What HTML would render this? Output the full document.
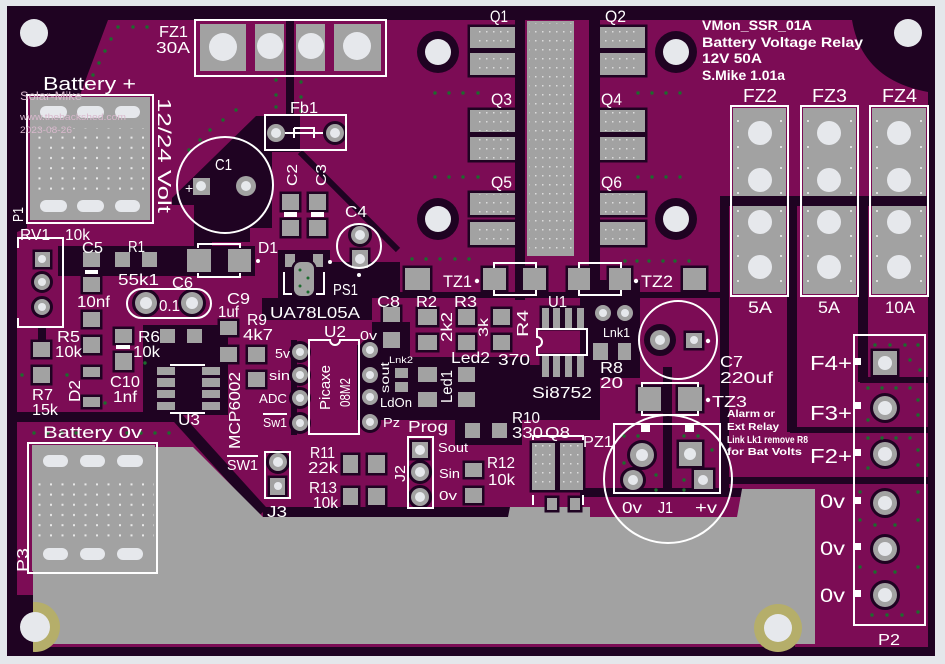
<!DOCTYPE html>
<html><head><meta charset="utf-8"><style>
html,body{margin:0;padding:0;background:#e4e7eb;}
svg{display:block;}
text{font-family:"Liberation Sans","DejaVu Sans",sans-serif;fill:#fff;}
.t{font-size:16px;}
.s{font-size:13px;}
.b{font-weight:bold;}
</style></head><body>
<svg width="945" height="664" viewBox="0 0 945 664" xmlns="http://www.w3.org/2000/svg">
<defs>
<pattern id="dots" width="11.5" height="10.2" patternUnits="userSpaceOnUse"><rect x="4" y="4" width="2" height="2" fill="#e8e8e8"/></pattern>
<pattern id="dots2" width="14" height="110" patternUnits="userSpaceOnUse"><rect x="5" y="9" width="2" height="2" fill="#e0e0e0"/></pattern>
<pattern id="dots3" width="7" height="9" patternUnits="userSpaceOnUse"><rect x="3" y="4" width="1.5" height="1.5" fill="#dcdcdc"/></pattern>
<clipPath id="gclip"><rect x="33" y="595" width="40" height="60"/></clipPath>
</defs>
<rect width="945" height="664" fill="#e4e7eb"/>
<rect x="7" y="6" width="928" height="650" fill="#1f0322"/>
<path d="M108,20 L852,20 Q862,80 928,92 L928,647 L17,647 L17,232 L27,228 L27,95 L80,95 Z" fill="#7c0c55"/>

<g fill="#1f0322">
<rect x="286" y="20" width="8" height="97"/>
<polygon points="256,116 300,116 300,152 272,152 272,228 250,228 250,242 212,242 212,250 194,250 194,205 172,205 172,198"/>
<rect x="58" y="246" width="197" height="30"/>
<rect x="278" y="250" width="52" height="48"/>
<rect x="262" y="298" width="110" height="22"/>
<rect x="330" y="262" width="70" height="36"/>
<rect x="143" y="325" width="85" height="90"/>
<rect x="17" y="412" width="163" height="10"/>
<polygon points="372,322 410,322 410,357 530,357 530,365 600,365 600,420 357,420 357,345 372,345"/>
<rect x="580" y="280" width="60" height="98"/>
<rect x="395" y="292" width="330" height="6"/>
<rect x="720" y="196" width="9" height="296"/>
<rect x="787" y="196" width="10" height="236"/>
<rect x="858" y="196" width="10" height="186"/>
<rect x="729" y="196" width="199" height="10"/>
<rect x="860" y="377" width="68" height="6"/>
<rect x="790" y="427" width="138" height="6"/>
<rect x="720" y="477" width="208" height="7"/>
<rect x="580" y="488" width="162" height="9"/>
<rect x="455" y="415" width="67" height="30"/>
<rect x="663" y="367" width="9" height="126"/>
<rect x="515" y="20" width="10" height="280"/>
<rect x="589" y="20" width="11" height="280"/>
<rect x="38" y="327" width="8" height="18"/>
<rect x="291" y="340" width="6" height="95"/>
</g>
<g stroke="#1f0322" fill="none">
<line x1="300" y1="152" x2="398" y2="250" stroke-width="6"/>
<line x1="177" y1="417" x2="263" y2="512" stroke-width="11"/>
<line x1="263" y1="512" x2="510" y2="512" stroke-width="10"/>
</g>

<path d="M33,447 L193,447 L263,517 L508,517 L510,507 L590,507 L590,517 L737,517 L742,489 L815,489 L815,644 L33,644 Z" fill="#a2a2a2"/>
<g fill="url(#dots2)">
<rect x="270" y="518" width="545" height="12"/>
<rect x="80" y="628" width="700" height="12"/>
</g>
<rect x="527" y="21" width="47" height="235" fill="#a2a2a2"/>
<rect x="529" y="23" width="43" height="231" fill="url(#dots3)"/>

<circle cx="34" cy="33" r="14" fill="#e6e8ec"/>
<circle cx="908" cy="33" r="14" fill="#e6e8ec"/>
<g fill="#1f0322"><circle cx="438" cy="52" r="21"/><circle cx="676" cy="52" r="21"/><circle cx="438" cy="219" r="21"/><circle cx="676" cy="219" r="21"/></g>
<g fill="#e6e8ec"><circle cx="438" cy="52" r="13"/><circle cx="676" cy="52" r="13"/><circle cx="438" cy="219" r="13"/><circle cx="676" cy="219" r="13"/></g>
<rect x="7" y="595" width="26" height="61" fill="#1f0322"/>
<circle cx="35" cy="627" r="25" fill="#b5ae6a" clip-path="url(#gclip)"/>
<circle cx="35" cy="627" r="15" fill="#e6e8ec"/>
<rect x="763" y="643" width="32" height="5" fill="#1f0322"/>
<circle cx="778" cy="628" r="24" fill="#b5ae6a"/>
<circle cx="778" cy="628" r="14" fill="#e6e8ec"/>

<g fill="#a2a2a2">
<rect x="30" y="97" width="120" height="123"/>
<rect x="32" y="445" width="123" height="126"/>
<rect x="200" y="24" width="46" height="47"/>
<rect x="255" y="24" width="29" height="47"/>
<rect x="296" y="24" width="29" height="47"/>
<rect x="334" y="24" width="47" height="47"/>
<rect x="733" y="108" width="53" height="88"/><rect x="733" y="206" width="53" height="88"/>
<rect x="803" y="108" width="53" height="88"/><rect x="803" y="206" width="53" height="88"/>
<rect x="872" y="108" width="54" height="88"/><rect x="872" y="206" width="54" height="88"/>
</g>
<rect x="33" y="128" width="118" height="62" fill="url(#dots)"/>
<rect x="33" y="478" width="121" height="62" fill="url(#dots)"/>
<g fill="#e6e8ec">
<rect x="40" y="106" width="27" height="12" rx="6"/><rect x="77" y="106" width="27" height="12" rx="6"/><rect x="115" y="106" width="25" height="12" rx="6"/>
<rect x="40" y="200" width="27" height="12" rx="6"/><rect x="77" y="200" width="27" height="12" rx="6"/><rect x="115" y="200" width="25" height="12" rx="6"/>
<rect x="43" y="455" width="25" height="12" rx="6"/><rect x="80" y="455" width="25" height="12" rx="6"/><rect x="117" y="455" width="26" height="12" rx="6"/>
<rect x="43" y="548" width="25" height="12" rx="6"/><rect x="80" y="548" width="25" height="12" rx="6"/><rect x="117" y="548" width="26" height="12" rx="6"/>
<circle cx="223" cy="47" r="14"/><circle cx="270" cy="46" r="13"/><circle cx="311" cy="46" r="13"/><circle cx="357" cy="46" r="14"/>
<circle cx="760" cy="133" r="12"/><circle cx="760" cy="180" r="12"/><circle cx="760" cy="222" r="12"/><circle cx="760" cy="267" r="12"/>
<circle cx="829" cy="133" r="12"/><circle cx="829" cy="180" r="12"/><circle cx="829" cy="222" r="12"/><circle cx="829" cy="267" r="12"/>
<circle cx="899" cy="133" r="12"/><circle cx="899" cy="180" r="12"/><circle cx="899" cy="222" r="12"/><circle cx="899" cy="267" r="12"/>
</g>
<!-- small dots around FZ pads -->
<g fill="#e0e0e0">
<rect x="737" y="120" width="2" height="2"/><rect x="780" y="120" width="2" height="2"/><rect x="737" y="146" width="2" height="2"/><rect x="780" y="146" width="2" height="2"/>
<rect x="737" y="167" width="2" height="2"/><rect x="780" y="167" width="2" height="2"/><rect x="737" y="192" width="2" height="2"/><rect x="780" y="192" width="2" height="2"/>
<rect x="737" y="210" width="2" height="2"/><rect x="780" y="210" width="2" height="2"/><rect x="737" y="235" width="2" height="2"/><rect x="780" y="235" width="2" height="2"/>
<rect x="737" y="255" width="2" height="2"/><rect x="780" y="255" width="2" height="2"/><rect x="737" y="280" width="2" height="2"/><rect x="780" y="280" width="2" height="2"/>
<rect x="807" y="120" width="2" height="2"/><rect x="850" y="120" width="2" height="2"/><rect x="807" y="146" width="2" height="2"/><rect x="850" y="146" width="2" height="2"/>
<rect x="807" y="167" width="2" height="2"/><rect x="850" y="167" width="2" height="2"/><rect x="807" y="192" width="2" height="2"/><rect x="850" y="192" width="2" height="2"/>
<rect x="807" y="210" width="2" height="2"/><rect x="850" y="210" width="2" height="2"/><rect x="807" y="235" width="2" height="2"/><rect x="850" y="235" width="2" height="2"/>
<rect x="807" y="255" width="2" height="2"/><rect x="850" y="255" width="2" height="2"/><rect x="807" y="280" width="2" height="2"/><rect x="850" y="280" width="2" height="2"/>
<rect x="876" y="120" width="2" height="2"/><rect x="920" y="120" width="2" height="2"/><rect x="876" y="146" width="2" height="2"/><rect x="920" y="146" width="2" height="2"/>
<rect x="876" y="167" width="2" height="2"/><rect x="920" y="167" width="2" height="2"/><rect x="876" y="192" width="2" height="2"/><rect x="920" y="192" width="2" height="2"/>
<rect x="876" y="210" width="2" height="2"/><rect x="920" y="210" width="2" height="2"/><rect x="876" y="235" width="2" height="2"/><rect x="920" y="235" width="2" height="2"/>
<rect x="876" y="255" width="2" height="2"/><rect x="920" y="255" width="2" height="2"/><rect x="876" y="280" width="2" height="2"/><rect x="920" y="280" width="2" height="2"/>
</g>

<g fill="#a2a2a2" stroke="#1f0322" stroke-width="5" paint-order="stroke">
<rect x="470" y="27" width="45" height="21"/><rect x="470" y="53" width="45" height="22"/>
<rect x="600" y="27" width="45" height="21"/><rect x="600" y="53" width="45" height="22"/>
<rect x="470" y="110" width="45" height="22"/><rect x="470" y="137" width="45" height="23"/>
<rect x="600" y="110" width="45" height="22"/><rect x="600" y="137" width="45" height="23"/>
<rect x="470" y="193" width="45" height="22"/><rect x="470" y="222" width="45" height="23"/>
<rect x="600" y="193" width="45" height="22"/><rect x="600" y="222" width="45" height="23"/>
<rect x="405" y="268" width="25" height="22"/><rect x="483" y="268" width="23" height="22"/><rect x="523" y="268" width="23" height="22"/>
<rect x="568" y="268" width="22" height="22"/><rect x="609" y="268" width="22" height="22"/><rect x="683" y="268" width="23" height="22"/>
<rect x="638" y="387" width="23" height="24"/><rect x="678" y="387" width="24" height="24"/>
<rect x="282" y="194" width="17" height="16"/><rect x="282" y="220" width="17" height="16"/>
<rect x="309" y="194" width="17" height="16"/><rect x="309" y="220" width="17" height="16"/>
<rect x="187" y="249" width="24" height="23"/><rect x="228" y="249" width="23" height="23"/>
<rect x="285" y="254" width="10" height="13"/><rect x="313" y="254" width="10" height="13"/>
<rect x="294" y="262" width="20" height="34" rx="7"/>
<rect x="352" y="250" width="16" height="18"/>
<rect x="83" y="252" width="17" height="15"/><rect x="83" y="277" width="17" height="15"/>
<rect x="115" y="252" width="15" height="15"/><rect x="142" y="252" width="15" height="15"/>
<rect x="83" y="312" width="17" height="15"/><rect x="83" y="337" width="17" height="16"/>
<rect x="83" y="367" width="17" height="10"/><rect x="83" y="397" width="17" height="10"/>
<rect x="33" y="342" width="17" height="15"/><rect x="33" y="367" width="17" height="16"/>
<rect x="115" y="329" width="17" height="14"/><rect x="115" y="353" width="17" height="17"/>
<rect x="160" y="329" width="15" height="14"/><rect x="187" y="329" width="15" height="14"/>
<rect x="157" y="367" width="18" height="8"/><rect x="157" y="378" width="18" height="9"/><rect x="157" y="390" width="18" height="8"/><rect x="157" y="402" width="18" height="8"/>
<rect x="202" y="367" width="18" height="8"/><rect x="202" y="378" width="18" height="9"/><rect x="202" y="390" width="18" height="8"/><rect x="202" y="402" width="18" height="8"/>
<rect x="220" y="321" width="17" height="14"/><rect x="220" y="347" width="17" height="15"/>
<rect x="248" y="347" width="17" height="15"/><rect x="248" y="372" width="17" height="15"/>
<rect x="35" y="252" width="15" height="15"/>
<rect x="383" y="307" width="17" height="15"/><rect x="383" y="332" width="17" height="16"/>
<rect x="418" y="309" width="19" height="16"/><rect x="418" y="335" width="19" height="15"/>
<rect x="458" y="309" width="17" height="16"/><rect x="458" y="335" width="17" height="15"/>
<rect x="493" y="309" width="17" height="16"/><rect x="493" y="335" width="17" height="15"/>
<rect x="418" y="367" width="19" height="15"/><rect x="418" y="392" width="19" height="15"/>
<rect x="458" y="367" width="17" height="15"/><rect x="458" y="392" width="17" height="15"/>
<rect x="395" y="368" width="13" height="10"/><rect x="395" y="382" width="13" height="10"/>
<rect x="542" y="308" width="7" height="20"/><rect x="553" y="308" width="7" height="20"/><rect x="565" y="308" width="7" height="20"/><rect x="577" y="308" width="7" height="20"/>
<rect x="542" y="356" width="7" height="21"/><rect x="553" y="356" width="7" height="21"/><rect x="565" y="356" width="7" height="21"/><rect x="577" y="356" width="7" height="21"/>
<rect x="593" y="343" width="15" height="17"/><rect x="618" y="343" width="13" height="17"/>
<rect x="465" y="423" width="15" height="15"/><rect x="492" y="423" width="15" height="15"/>
<rect x="465" y="463" width="17" height="14"/><rect x="465" y="488" width="17" height="15"/>
<rect x="532" y="443" width="23" height="47"/><rect x="560" y="443" width="23" height="47"/>
<rect x="547" y="498" width="10" height="12"/><rect x="570" y="498" width="10" height="12"/>
<rect x="343" y="455" width="15" height="18"/><rect x="368" y="455" width="17" height="18"/>
<rect x="343" y="488" width="15" height="17"/><rect x="368" y="488" width="17" height="17"/>
<rect x="270" y="478" width="15" height="17"/>
<rect x="412" y="442" width="16" height="16"/>
<rect x="686" y="333" width="16" height="15"/>
<rect x="679" y="442" width="23" height="24"/><rect x="694" y="470" width="19" height="19"/>
<rect x="873" y="351" width="24" height="24"/>
</g>
<g fill="url(#dots3)">
<rect x="476" y="28" width="36" height="19"/><rect x="476" y="54" width="36" height="20"/>
<rect x="603" y="28" width="36" height="19"/><rect x="603" y="54" width="36" height="20"/>
<rect x="476" y="111" width="36" height="20"/><rect x="476" y="138" width="36" height="21"/>
<rect x="603" y="111" width="36" height="20"/><rect x="603" y="138" width="36" height="21"/>
<rect x="476" y="194" width="36" height="20"/><rect x="476" y="223" width="36" height="21"/>
<rect x="603" y="194" width="36" height="20"/><rect x="603" y="223" width="36" height="21"/>
<rect x="534" y="445" width="20" height="43"/><rect x="561" y="445" width="20" height="43"/>
</g>
<g fill="#a2a2a2" stroke="#1f0322" stroke-width="6" paint-order="stroke">
<circle cx="246" cy="186" r="10"/>
<circle cx="276" cy="133" r="9"/><circle cx="335" cy="133" r="9"/>
<circle cx="360" cy="235" r="9"/>
<circle cx="42" cy="282" r="8"/><circle cx="42" cy="307" r="8"/>
<circle cx="146" cy="303" r="11"/><circle cx="192" cy="303" r="11"/>
<circle cx="300" cy="352" r="8"/><circle cx="300" cy="375" r="8"/><circle cx="300" cy="398" r="8"/><circle cx="300" cy="423" r="8"/>
<circle cx="370" cy="350" r="8"/><circle cx="370" cy="375" r="8"/><circle cx="370" cy="397" r="8"/><circle cx="370" cy="422" r="8"/>
<circle cx="420" cy="472" r="9"/><circle cx="420" cy="497" r="9"/>
<circle cx="278" cy="462" r="9"/>
<circle cx="603" cy="313" r="8"/><circle cx="625" cy="313" r="8"/>
<circle cx="660" cy="340" r="10" stroke-width="12"/>
<circle cx="642" cy="455" r="12"/><circle cx="633" cy="480" r="10"/>
<circle cx="885" cy="408" r="12"/><circle cx="885" cy="454" r="12"/><circle cx="885" cy="503" r="12"/><circle cx="885" cy="549" r="12"/><circle cx="885" cy="595" r="12"/>
</g>
<rect x="193" y="178" width="17" height="17" fill="#a2a2a2"/>
<g fill="#e6e8ec">
<circle cx="201" cy="186" r="5"/><circle cx="246" cy="186" r="5"/>
<circle cx="276" cy="133" r="5"/><circle cx="335" cy="133" r="5"/>
<circle cx="360" cy="235" r="5"/><circle cx="360" cy="259" r="5"/>
<circle cx="42" cy="259" r="4"/><circle cx="42" cy="282" r="4"/><circle cx="42" cy="307" r="4"/>
<circle cx="146" cy="303" r="6"/><circle cx="192" cy="303" r="6"/>
<circle cx="300" cy="352" r="4"/><circle cx="300" cy="375" r="4"/><circle cx="300" cy="398" r="4"/><circle cx="300" cy="423" r="4"/>
<circle cx="370" cy="350" r="4"/><circle cx="370" cy="375" r="4"/><circle cx="370" cy="397" r="4"/><circle cx="370" cy="422" r="4"/>
<circle cx="420" cy="450" r="5"/><circle cx="420" cy="472" r="5"/><circle cx="420" cy="497" r="5"/>
<circle cx="278" cy="462" r="5"/><circle cx="278" cy="486" r="4"/>
<circle cx="603" cy="313" r="4"/><circle cx="625" cy="313" r="4"/>
<circle cx="660" cy="340" r="5"/><circle cx="694" cy="340" r="4"/>
<circle cx="642" cy="455" r="6"/><circle cx="633" cy="480" r="5"/><circle cx="690" cy="454" r="6"/><circle cx="703" cy="480" r="5"/>
<circle cx="885" cy="363" r="7"/><circle cx="885" cy="408" r="7"/><circle cx="885" cy="454" r="7"/><circle cx="885" cy="503" r="7"/><circle cx="885" cy="549" r="7"/><circle cx="885" cy="595" r="7"/>
</g>

<g fill="#1d6b2e">
<circle cx="118" cy="27" r="1.7"/><circle cx="133" cy="27" r="1.7"/><circle cx="147" cy="27" r="1.7"/><circle cx="111" cy="39" r="1.7"/><circle cx="105" cy="51" r="1.7"/><circle cx="99" cy="63" r="1.7"/><circle cx="93" cy="75" r="1.7"/><circle cx="87" cy="87" r="1.7"/>
<circle cx="276" cy="80" r="1.7"/><circle cx="276" cy="95" r="1.7"/><circle cx="276" cy="107" r="1.7"/><circle cx="301" cy="82" r="1.7"/><circle cx="301" cy="97" r="1.7"/><circle cx="301" cy="111" r="1.7"/>
<circle cx="236" cy="110" r="1.7"/><circle cx="223" cy="120" r="1.7"/><circle cx="210" cy="130" r="1.7"/><circle cx="200" cy="140" r="1.7"/><circle cx="189" cy="150" r="1.7"/>
<circle cx="435" cy="93" r="1.7"/><circle cx="449" cy="93" r="1.7"/><circle cx="463" cy="93" r="1.7"/><circle cx="478" cy="93" r="1.7"/>
<circle cx="638" cy="93" r="1.7"/><circle cx="652" cy="93" r="1.7"/><circle cx="666" cy="93" r="1.7"/><circle cx="680" cy="93" r="1.7"/>
<circle cx="435" cy="177" r="1.7"/><circle cx="449" cy="177" r="1.7"/><circle cx="463" cy="177" r="1.7"/><circle cx="478" cy="177" r="1.7"/>
<circle cx="638" cy="177" r="1.7"/><circle cx="652" cy="177" r="1.7"/><circle cx="666" cy="177" r="1.7"/><circle cx="680" cy="177" r="1.7"/>
<circle cx="412" cy="259" r="1.7"/><circle cx="426" cy="259" r="1.7"/><circle cx="440" cy="259" r="1.7"/><circle cx="455" cy="259" r="1.7"/><circle cx="469" cy="259" r="1.7"/>
<circle cx="625" cy="261" r="1.7"/><circle cx="637" cy="261" r="1.7"/><circle cx="649" cy="261" r="1.7"/><circle cx="663" cy="261" r="1.7"/><circle cx="675" cy="261" r="1.7"/><circle cx="689" cy="261" r="1.7"/>
<circle cx="34" cy="433" r="1.7"/><circle cx="48" cy="433" r="1.7"/><circle cx="62" cy="433" r="1.7"/><circle cx="76" cy="433" r="1.7"/><circle cx="127" cy="433" r="1.7"/><circle cx="141" cy="433" r="1.7"/><circle cx="155" cy="433" r="1.7"/><circle cx="169" cy="433" r="1.7"/>
<circle cx="22" cy="375" r="1.7"/><circle cx="67" cy="375" r="1.7"/><circle cx="105" cy="403" r="1.7"/><circle cx="145" cy="363" r="1.7"/>
<circle cx="868" cy="388" r="1.7"/><circle cx="882" cy="388" r="1.7"/><circle cx="896" cy="388" r="1.7"/><circle cx="910" cy="388" r="1.7"/><circle cx="918" cy="400" r="1.7"/><circle cx="918" cy="415" r="1.7"/><circle cx="868" cy="420" r="1.7"/>
<circle cx="868" cy="438" r="1.7"/><circle cx="882" cy="438" r="1.7"/><circle cx="896" cy="438" r="1.7"/><circle cx="910" cy="438" r="1.7"/><circle cx="918" cy="450" r="1.7"/><circle cx="918" cy="465" r="1.7"/><circle cx="868" cy="468" r="1.7"/>
<circle cx="860" cy="492" r="1.7"/><circle cx="918" cy="492" r="1.7"/><circle cx="860" cy="520" r="1.7"/><circle cx="875" cy="525" r="1.7"/><circle cx="895" cy="525" r="1.7"/><circle cx="918" cy="520" r="1.7"/>
<circle cx="860" cy="567" r="1.7"/><circle cx="875" cy="572" r="1.7"/><circle cx="895" cy="572" r="1.7"/><circle cx="918" cy="567" r="1.7"/><circle cx="872" cy="615" r="1.7"/><circle cx="887" cy="615" r="1.7"/><circle cx="902" cy="615" r="1.7"/><circle cx="918" cy="612" r="1.7"/>
<circle cx="875" cy="345" r="1.7"/><circle cx="890" cy="345" r="1.7"/><circle cx="905" cy="345" r="1.7"/><circle cx="918" cy="345" r="1.7"/><circle cx="910" cy="360" r="1.7"/><circle cx="920" cy="370" r="1.7"/>
<circle cx="624" cy="436" r="1.7"/><circle cx="638" cy="436" r="1.7"/><circle cx="624" cy="463" r="1.7"/><circle cx="656" cy="475" r="1.7"/><circle cx="656" cy="490" r="1.7"/>
<circle cx="684" cy="436" r="1.7"/><circle cx="698" cy="436" r="1.7"/><circle cx="712" cy="450" r="1.7"/><circle cx="684" cy="480" r="1.7"/><circle cx="684" cy="490" r="1.7"/>
<circle cx="300" cy="270" r="1.5"/><circle cx="308" cy="278" r="1.5"/><circle cx="300" cy="286" r="1.5"/><circle cx="308" cy="292" r="1.5"/>
</g>

<g fill="none" stroke="#ffffff" stroke-width="2">
<rect x="195" y="20" width="191" height="56"/>
<rect x="27" y="95" width="126" height="128"/>
<rect x="28" y="443" width="129" height="130"/>
<rect x="265" y="115" width="81" height="35"/>
<circle cx="225" cy="185" r="48"/>
<circle cx="359" cy="246" r="22"/>
<path d="M24,238 L63,238 L63,327 L18,327 L18,318 M18,248 L18,238 L24,238"/>
<rect x="127" y="289" width="84" height="29" rx="14.5"/>
<path d="M309,340 L330,340 A5,5 0 0 0 340,340 L359,340 L359,434 L309,434 Z"/>
<rect x="408" y="437" width="25" height="71"/>
<rect x="265" y="452" width="25" height="46"/>
<path d="M537,329 L587,329 L587,355 L537,355 L537,347 A5,5 0 0 0 537,337 Z"/>
<circle cx="678" cy="340" r="39"/>
<circle cx="668" cy="479" r="64"/>
<rect x="614" y="424" width="106" height="69"/>
<rect x="731" y="106" width="57" height="190"/>
<rect x="801" y="106" width="57" height="190"/>
<rect x="870" y="106" width="58" height="190"/>
<rect x="854" y="335" width="71" height="290"/>
<path d="M494,268 L494,263 L536,263 L536,268 M494,290 L494,295 L536,295 L536,290"/>
<path d="M579,268 L579,263 L621,263 L621,268 M579,290 L579,295 L621,295 L621,290"/>
<path d="M642,387 L642,383 L698,383 L698,387 M642,411 L642,415 L698,415 L698,411"/>
<path d="M198,248 L198,244 L240,244 L240,248 M198,273 L198,277 L240,277 L240,273"/>
<path d="M284,272 L284,294 L292,294 M324,272 L324,294 L316,294"/>
<path d="M285,133 L323,133 M294,128 L314,128 L314,138 M294,128 L294,138" />
<path d="M533,440 L533,436 L583,436 L583,440 M533,495 L533,505 M583,495 L583,505"/>
<path d="M170,365 L205,365 M170,413 L205,413"/>
<path d="M227,456 L258,456 M263,414 L287,414"/>
</g>
<g fill="#ffffff">
<rect x="855" y="358" width="6" height="7"/><rect x="855" y="402" width="6" height="7"/><rect x="855" y="449" width="6" height="7"/>
<rect x="855" y="497" width="6" height="7"/><rect x="855" y="543" width="6" height="7"/><rect x="855" y="590" width="6" height="7"/>
<rect x="641" y="424" width="9" height="8"/><rect x="685" y="424" width="9" height="8"/>
<circle cx="477" cy="281" r="2.2"/><circle cx="636" cy="281" r="2.2"/><circle cx="708" cy="400" r="2.2"/><circle cx="708" cy="341" r="2.2"/>
<circle cx="258" cy="261" r="2"/><circle cx="330" cy="262" r="2"/><circle cx="359" cy="275" r="2"/>
<rect x="284" y="212" width="13" height="5"/><rect x="311" y="212" width="13" height="5"/>
<rect x="85" y="270" width="13" height="4"/><rect x="116" y="345" width="14" height="4"/>
</g>

<text class="t" x="159" y="37" font-size="17" textLength="29" lengthAdjust="spacingAndGlyphs">FZ1</text>
<text class="t" x="156" y="53" font-size="17" textLength="34" lengthAdjust="spacingAndGlyphs">30A</text>
<text x="43" y="90" font-size="18" textLength="93" lengthAdjust="spacingAndGlyphs">Battery +</text>
<text x="20" y="100" font-size="12" textLength="62" lengthAdjust="spacingAndGlyphs" style="fill:#d8b8cc">Solar-Mike</text>
<text x="20" y="120" font-size="9" textLength="106" lengthAdjust="spacingAndGlyphs" style="fill:#d8b8cc">www.thebackshed.com</text>
<text x="20" y="133" font-size="9" textLength="52" lengthAdjust="spacingAndGlyphs" style="fill:#d8b8cc">2023-08-26</text>
<text transform="translate(158,98) rotate(90)" font-size="18" textLength="115" lengthAdjust="spacingAndGlyphs">12/24 Volt</text>
<text transform="translate(23,222) rotate(-90)" font-size="15" textLength="15" lengthAdjust="spacingAndGlyphs">P1</text>
<text class="t" x="290" y="113" textLength="28" lengthAdjust="spacingAndGlyphs">Fb1</text>
<text class="t" x="215" y="170" textLength="17" lengthAdjust="spacingAndGlyphs">C1</text>
<text x="185" y="193" font-size="14">+</text>
<text transform="translate(297,186) rotate(-90)" font-size="15" textLength="22" lengthAdjust="spacingAndGlyphs">C2</text>
<text transform="translate(326,186) rotate(-90)" font-size="15" textLength="22" lengthAdjust="spacingAndGlyphs">C3</text>
<text class="t" x="345" y="217" textLength="22" lengthAdjust="spacingAndGlyphs">C4</text>
<text class="t" x="258" y="253" textLength="20" lengthAdjust="spacingAndGlyphs">D1</text>
<text class="t" x="333" y="295" textLength="25" lengthAdjust="spacingAndGlyphs">PS1</text>
<text class="t" x="270" y="318" textLength="90" lengthAdjust="spacingAndGlyphs">UA78L05A</text>
<text class="t" x="20" y="240" textLength="30" lengthAdjust="spacingAndGlyphs">RV1</text>
<text class="t" x="65" y="240" textLength="25" lengthAdjust="spacingAndGlyphs">10k</text>
<text class="t" x="82" y="253" textLength="21" lengthAdjust="spacingAndGlyphs">C5</text>
<text class="t" x="128" y="252" textLength="17" lengthAdjust="spacingAndGlyphs">R1</text>
<text class="t" x="118" y="285" textLength="41" lengthAdjust="spacingAndGlyphs">55k1</text>
<text class="t" x="172" y="288" textLength="21" lengthAdjust="spacingAndGlyphs">C6</text>
<text class="t" x="77" y="307" textLength="33" lengthAdjust="spacingAndGlyphs">10nf</text>
<text class="t" x="159" y="311" textLength="21" lengthAdjust="spacingAndGlyphs">0.1</text>
<text class="t" x="227" y="304" textLength="23" lengthAdjust="spacingAndGlyphs">C9</text>
<text class="t" x="218" y="317" textLength="21" lengthAdjust="spacingAndGlyphs">1uf</text>
<text class="t" x="247" y="325" textLength="20" lengthAdjust="spacingAndGlyphs">R9</text>
<text class="t" x="243" y="340" textLength="30" lengthAdjust="spacingAndGlyphs">4k7</text>
<text class="t" x="57" y="342" textLength="23" lengthAdjust="spacingAndGlyphs">R5</text>
<text class="t" x="55" y="357" textLength="27" lengthAdjust="spacingAndGlyphs">10k</text>
<text class="t" x="138" y="342" textLength="22" lengthAdjust="spacingAndGlyphs">R6</text>
<text class="t" x="133" y="357" textLength="27" lengthAdjust="spacingAndGlyphs">10k</text>
<text class="t" x="32" y="400" textLength="21" lengthAdjust="spacingAndGlyphs">R7</text>
<text class="t" x="32" y="415" textLength="26" lengthAdjust="spacingAndGlyphs">15k</text>
<text transform="translate(80,402) rotate(-90)" class="t" textLength="22" lengthAdjust="spacingAndGlyphs">D2</text>
<text class="t" x="110" y="387" textLength="30" lengthAdjust="spacingAndGlyphs">C10</text>
<text class="t" x="113" y="402" textLength="24" lengthAdjust="spacingAndGlyphs">1nf</text>
<text class="t" x="178" y="425" textLength="22" lengthAdjust="spacingAndGlyphs">U3</text>
<text transform="translate(240,449) rotate(-90)" class="t" textLength="77" lengthAdjust="spacingAndGlyphs">MCP6002</text>
<text x="43" y="438" font-size="17" textLength="99" lengthAdjust="spacingAndGlyphs">Battery 0v</text>
<text transform="translate(28,572) rotate(-90)" class="t" textLength="24" lengthAdjust="spacingAndGlyphs">P3</text>
<text x="227" y="470" font-size="15" textLength="31" lengthAdjust="spacingAndGlyphs">SW1</text>
<text class="t" x="267" y="517" textLength="20" lengthAdjust="spacingAndGlyphs">J3</text>
<text class="t" x="324" y="337" textLength="22" lengthAdjust="spacingAndGlyphs">U2</text>
<text class="s" x="275" y="358" textLength="15" lengthAdjust="spacingAndGlyphs">5v</text>
<text class="s" x="269" y="380" textLength="21" lengthAdjust="spacingAndGlyphs">sin</text>
<text class="s" x="259" y="403" textLength="28" lengthAdjust="spacingAndGlyphs">ADC</text>
<text class="s" x="263" y="427" textLength="24" lengthAdjust="spacingAndGlyphs">Sw1</text>
<text class="s" x="360" y="340" textLength="17" lengthAdjust="spacingAndGlyphs">0v</text>
<text transform="translate(330,410) rotate(-90)" font-size="15" textLength="45" lengthAdjust="spacingAndGlyphs">Picaxe</text>
<text transform="translate(350,407) rotate(-90)" font-size="15" textLength="29" lengthAdjust="spacingAndGlyphs">08M2</text>
<text x="389" y="363" font-size="9" textLength="24" lengthAdjust="spacingAndGlyphs">Lnk2</text>
<text transform="translate(389,393) rotate(-90)" font-size="12" textLength="31" lengthAdjust="spacingAndGlyphs">sout</text>
<text class="s" x="380" y="407" textLength="32" lengthAdjust="spacingAndGlyphs">LdOn</text>
<text class="s" x="383" y="427" textLength="17" lengthAdjust="spacingAndGlyphs">Pz</text>
<text class="t" x="377" y="307" textLength="23" lengthAdjust="spacingAndGlyphs">C8</text>
<text class="t" x="416" y="307" textLength="21" lengthAdjust="spacingAndGlyphs">R2</text>
<text class="t" x="454" y="307" textLength="23" lengthAdjust="spacingAndGlyphs">R3</text>
<text transform="translate(452,342) rotate(-90)" class="t" textLength="30" lengthAdjust="spacingAndGlyphs">2k2</text>
<text transform="translate(488,337) rotate(-90)" font-size="14" textLength="19" lengthAdjust="spacingAndGlyphs">3k</text>
<text transform="translate(528,337) rotate(-90)" class="t" textLength="27" lengthAdjust="spacingAndGlyphs">R4</text>
<text class="t" x="451" y="363" textLength="39" lengthAdjust="spacingAndGlyphs">Led2</text>
<text class="t" x="498" y="365" textLength="32" lengthAdjust="spacingAndGlyphs">370</text>
<text transform="translate(452,403) rotate(-90)" class="t" textLength="33" lengthAdjust="spacingAndGlyphs">Led1</text>
<text class="t" x="548" y="307" textLength="19" lengthAdjust="spacingAndGlyphs">U1</text>
<text class="t" x="532" y="398" textLength="60" lengthAdjust="spacingAndGlyphs">Si8752</text>
<text class="s" x="603" y="337" textLength="27" lengthAdjust="spacingAndGlyphs">Lnk1</text>
<text class="t" x="600" y="373" textLength="23" lengthAdjust="spacingAndGlyphs">R8</text>
<text class="t" x="600" y="388" textLength="23" lengthAdjust="spacingAndGlyphs">20</text>
<text class="t" x="720" y="367" textLength="23" lengthAdjust="spacingAndGlyphs">C7</text>
<text class="t" x="720" y="383" textLength="53" lengthAdjust="spacingAndGlyphs">220uf</text>
<text class="t" x="712" y="407" textLength="35" lengthAdjust="spacingAndGlyphs">TZ3</text>
<text class="b" x="727" y="417" font-size="10.5" textLength="48" lengthAdjust="spacingAndGlyphs">Alarm or</text>
<text class="b" x="727" y="430" font-size="10.5" textLength="52" lengthAdjust="spacingAndGlyphs">Ext Relay</text>
<text class="b" x="727" y="443" font-size="10.5" textLength="81" lengthAdjust="spacingAndGlyphs">Link Lk1 remove R8</text>
<text class="b" x="727" y="455" font-size="10.5" textLength="75" lengthAdjust="spacingAndGlyphs">for Bat Volts</text>
<text x="810" y="370" font-size="20" textLength="42" lengthAdjust="spacingAndGlyphs">F4+</text>
<text x="810" y="420" font-size="20" textLength="42" lengthAdjust="spacingAndGlyphs">F3+</text>
<text x="810" y="463" font-size="20" textLength="42" lengthAdjust="spacingAndGlyphs">F2+</text>
<text x="820" y="508" font-size="19" textLength="25" lengthAdjust="spacingAndGlyphs">0v</text>
<text x="820" y="555" font-size="19" textLength="25" lengthAdjust="spacingAndGlyphs">0v</text>
<text x="820" y="602" font-size="19" textLength="25" lengthAdjust="spacingAndGlyphs">0v</text>
<text class="t" x="878" y="645" textLength="22" lengthAdjust="spacingAndGlyphs">P2</text>
<text class="t" x="583" y="447" textLength="30" lengthAdjust="spacingAndGlyphs">PZ1</text>
<text class="t" x="622" y="513" textLength="20" lengthAdjust="spacingAndGlyphs">0v</text>
<text class="t" x="658" y="513" textLength="15" lengthAdjust="spacingAndGlyphs">J1</text>
<text class="t" x="695" y="513" textLength="22" lengthAdjust="spacingAndGlyphs">+v</text>
<text class="t" x="512" y="423" textLength="28" lengthAdjust="spacingAndGlyphs">R10</text>
<text class="t" x="512" y="438" textLength="31" lengthAdjust="spacingAndGlyphs">330</text>
<text class="t" x="545" y="438" textLength="25" lengthAdjust="spacingAndGlyphs">Q8</text>
<text class="t" x="408" y="432" textLength="40" lengthAdjust="spacingAndGlyphs">Prog</text>
<text class="s" x="438" y="452" textLength="30" lengthAdjust="spacingAndGlyphs">Sout</text>
<text class="s" x="439" y="478" textLength="21" lengthAdjust="spacingAndGlyphs">Sin</text>
<text class="s" x="439" y="500" textLength="18" lengthAdjust="spacingAndGlyphs">0v</text>
<text transform="translate(405,482) rotate(-90)" font-size="15" textLength="17" lengthAdjust="spacingAndGlyphs">J2</text>
<text class="t" x="487" y="468" textLength="28" lengthAdjust="spacingAndGlyphs">R12</text>
<text class="t" x="488" y="485" textLength="27" lengthAdjust="spacingAndGlyphs">10k</text>
<text class="t" x="310" y="458" textLength="25" lengthAdjust="spacingAndGlyphs">R11</text>
<text class="t" x="308" y="473" textLength="30" lengthAdjust="spacingAndGlyphs">22k</text>
<text class="t" x="309" y="493" textLength="28" lengthAdjust="spacingAndGlyphs">R13</text>
<text class="t" x="313" y="508" textLength="25" lengthAdjust="spacingAndGlyphs">10k</text>
<text class="b" x="702" y="30" font-size="13.5" textLength="110" lengthAdjust="spacingAndGlyphs">VMon_SSR_01A</text>
<text class="b" x="702" y="47" font-size="13.5" textLength="161" lengthAdjust="spacingAndGlyphs">Battery Voltage Relay</text>
<text class="b" x="702" y="63" font-size="13.5" textLength="60" lengthAdjust="spacingAndGlyphs">12V 50A</text>
<text class="b" x="702" y="80" font-size="13.5" textLength="83" lengthAdjust="spacingAndGlyphs">S.Mike 1.01a</text>
<text x="743" y="102" font-size="18" textLength="34" lengthAdjust="spacingAndGlyphs">FZ2</text>
<text x="812" y="102" font-size="18" textLength="35" lengthAdjust="spacingAndGlyphs">FZ3</text>
<text x="882" y="102" font-size="18" textLength="35" lengthAdjust="spacingAndGlyphs">FZ4</text>
<text x="748" y="313" font-size="17" textLength="24" lengthAdjust="spacingAndGlyphs">5A</text>
<text x="818" y="313" font-size="17" textLength="22" lengthAdjust="spacingAndGlyphs">5A</text>
<text x="885" y="313" font-size="17" textLength="30" lengthAdjust="spacingAndGlyphs">10A</text>
<text x="490" y="22" font-size="17" textLength="18" lengthAdjust="spacingAndGlyphs">Q1</text>
<text x="605" y="22" font-size="17" textLength="21" lengthAdjust="spacingAndGlyphs">Q2</text>
<text x="491" y="105" font-size="17" textLength="21" lengthAdjust="spacingAndGlyphs">Q3</text>
<text x="601" y="105" font-size="17" textLength="21" lengthAdjust="spacingAndGlyphs">Q4</text>
<text x="491" y="188" font-size="17" textLength="21" lengthAdjust="spacingAndGlyphs">Q5</text>
<text x="601" y="188" font-size="17" textLength="21" lengthAdjust="spacingAndGlyphs">Q6</text>
<text x="443" y="287" font-size="17" textLength="29" lengthAdjust="spacingAndGlyphs">TZ1</text>
<text x="641" y="287" font-size="17" textLength="32" lengthAdjust="spacingAndGlyphs">TZ2</text>
</svg>
</body></html>
